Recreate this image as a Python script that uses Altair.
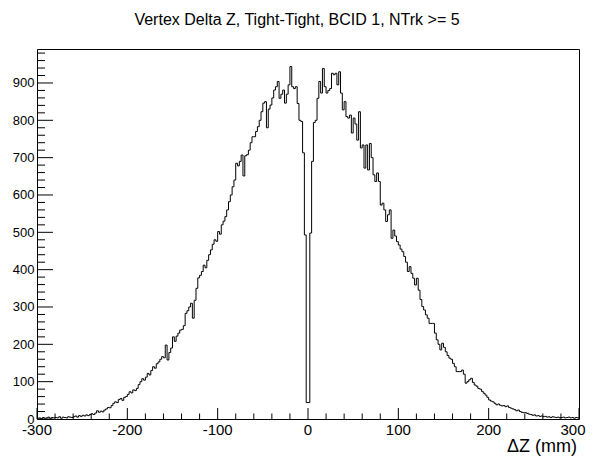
import altair as alt
import pandas as pd

# ---- data (2 mm bins from -300 to 300 mm) ----
X_MIN, X_MAX, BIN_W = -300, 300, 2
Y_MAX = 991

left_counts = [
    2, 3, 1, 4, 2, 3, 5, 2, 4, 3,            # -300..-280
    4, 3, 6, 2, 5, 4, 3, 6, 5, 4,            # -280..-260
    6, 8, 5, 9, 7, 10, 8, 11, 9, 12,         # -260..-240
    14, 12, 16, 22, 18, 21, 19, 24, 27, 31,  # -240..-220
    30, 36, 42, 46, 44, 52, 55, 50, 58, 60,  # -220..-200
    66, 73, 70, 78, 76, 82, 92, 100, 108, 104,        # -200..-180
    112, 122, 118, 130, 140, 136, 148, 153, 160, 167, # -180..-160
    164, 198, 158, 178, 190, 220, 208, 222, 230, 238, # -160..-140
    240, 250, 283, 290, 300, 310, 270, 318, 350, 378, # -140..-120
    385, 395, 412, 405, 425, 440, 453, 468, 480, 476, # -120..-100
    502, 495, 520, 530, 542, 560, 582, 600, 622, 640, # -100..-80
    685, 678, 690, 707, 651, 705, 708, 720, 740, 756, # -80..-60
    756, 770, 783, 800, 823, 846, 850, 780, 830, 841, # -60..-40
    860, 881, 890, 904, 859, 870, 881, 846, 870, 895, # -40..-20
    944, 890, 885, 890, 845, 800, 797, 713, 493, 44,  # -20..0
]

right_counts = [
    44, 498, 690, 794, 800, 859, 904, 873, 939, 890,  # 0..20
    873, 880, 885, 926, 922, 926, 895, 930, 873, 828, # 20..40
    850, 810, 806, 814, 766, 806, 790, 747, 823, 726, # 40..60
    734, 672, 734, 667, 738, 700, 654, 636, 659, 636, # 60..80
    573, 578, 560, 529, 547, 560, 484, 506, 490, 475, # 80..100
    466, 455, 448, 435, 420, 395, 408, 390, 377, 359, # 100..120
    377, 345, 320, 301, 292, 279, 270, 256, 256, 256, # 120..140
    230, 212, 200, 185, 203, 192, 180, 170, 163, 160, # 140..160
    149, 140, 127, 127, 127, 131, 120, 96, 100, 105,  # 160..180
    109, 98, 91, 88, 82, 80, 74, 69, 64, 58,          # 180..200
    51, 48, 46, 42, 38, 40, 37, 35, 36, 33,           # 200..220
    35, 31, 29, 27, 25, 22, 24, 20, 18, 17,           # 220..240
    17, 15, 13, 12, 10, 11, 8, 9, 7, 8,               # 240..260
    6, 7, 5, 6, 4, 6, 5, 4, 5, 3,                     # 260..280
    4, 5, 3, 4, 5, 3, 4, 2, 4, 3,                     # 280..300
]

x_major = [-300, -200, -100, 0, 100, 200, 300]
y_major = [0, 100, 200, 300, 400, 500, 600, 700, 800, 900]
x_minor = [v for v in range(-300, 301, 20) if v % 100 != 0]
y_minor = [v for v in range(0, 991, 20) if v % 100 != 0]

TITLE = "Vertex Delta Z, Tight-Tight, BCID 1, NTrk >= 5"
X_TITLE = "\u0394Z (mm)"

counts = left_counts + right_counts
edges = [X_MIN + BIN_W * i for i in range(len(counts) + 1)]
hist = pd.DataFrame({"x": edges, "y": counts + [counts[-1]]})

FONT = "Liberation Sans"
W, H = 542, 370

xs = alt.Scale(domain=[X_MIN, X_MAX], nice=False, zero=False)
ys = alt.Scale(domain=[0, Y_MAX], nice=False, zero=False)

x_axis = alt.Axis(values=x_major, ticks=False, tickSize=0, domain=False, grid=False,
                  labels=False, title=None)
y_axis = alt.Axis(values=y_major, ticks=False, tickSize=0, domain=False, grid=False,
                  labelExpr="'' + datum.value", labelFont=FONT, labelFontSize=13,
                  labelColor="black", labelPadding=3, labelFlush=False,
                  labelOverlap=False, labelBound=False, title=None)

line = alt.Chart(hist).mark_line(interpolate="step-after", color="black",
                                 strokeWidth=1).encode(
    x=alt.X("x:Q", scale=xs, axis=x_axis),
    y=alt.Y("y:Q", scale=ys, axis=y_axis),
)

ymaj = alt.Chart(pd.DataFrame({"v": y_major})).mark_rule(color="black", strokeWidth=1).encode(
    y=alt.Y("v:Q", scale=ys, axis=y_axis), x=alt.value(0), x2=alt.value(16))
ymin = alt.Chart(pd.DataFrame({"v": y_minor})).mark_rule(color="black", strokeWidth=1).encode(
    y=alt.Y("v:Q", scale=ys, axis=y_axis), x=alt.value(0), x2=alt.value(8))
xmaj = alt.Chart(pd.DataFrame({"v": x_major})).mark_rule(color="black", strokeWidth=1).encode(
    x=alt.X("v:Q", scale=xs, axis=x_axis), y=alt.value(H), y2=alt.value(H - 11))
xmin = alt.Chart(pd.DataFrame({"v": x_minor})).mark_rule(color="black", strokeWidth=1).encode(
    x=alt.X("v:Q", scale=xs, axis=x_axis), y=alt.value(H), y2=alt.value(H - 5.5))

xlab_base = alt.Chart(pd.DataFrame({"v": x_major})).transform_calculate(
    lbl="'' + datum.v")
xlab_inner = xlab_base.transform_filter(f"datum.v < {X_MAX}").mark_text(
    font=FONT, fontSize=15, align="center", baseline="top", color="black").encode(
    x=alt.X("v:Q", scale=xs, axis=x_axis), y=alt.value(H + 4), text="lbl:N")
xlab_last = xlab_base.transform_filter(f"datum.v == {X_MAX}").mark_text(
    font=FONT, fontSize=15, align="center", baseline="top", color="black", dx=-6).encode(
    x=alt.X("v:Q", scale=xs, axis=x_axis), y=alt.value(H + 4), text="lbl:N")

title = alt.Chart(pd.DataFrame({"t": [TITLE]})).mark_text(
    font=FONT, fontSize=16, align="center", baseline="middle", color="black").encode(
    x=alt.value(260), y=alt.value(-29), text="t:N")
xtitle = alt.Chart(pd.DataFrame({"t": [X_TITLE]})).mark_text(
    font=FONT, fontSize=18, align="right", baseline="alphabetic", color="black").encode(
    x=alt.value(W - 2), y=alt.value(403), text="t:N")

chart = alt.layer(line, ymaj, ymin, xmaj, xmin, xlab_inner, xlab_last, title, xtitle).properties(
    width=W, height=H,
    autosize=alt.AutoSizeParams(type="none"),
    padding={"left": 29, "top": 41, "right": 8, "bottom": 40},
    background="white",
).configure_view(stroke="black", strokeWidth=1)

chart.save("out.html", embed_options={"renderer": "svg", "actions": False})
